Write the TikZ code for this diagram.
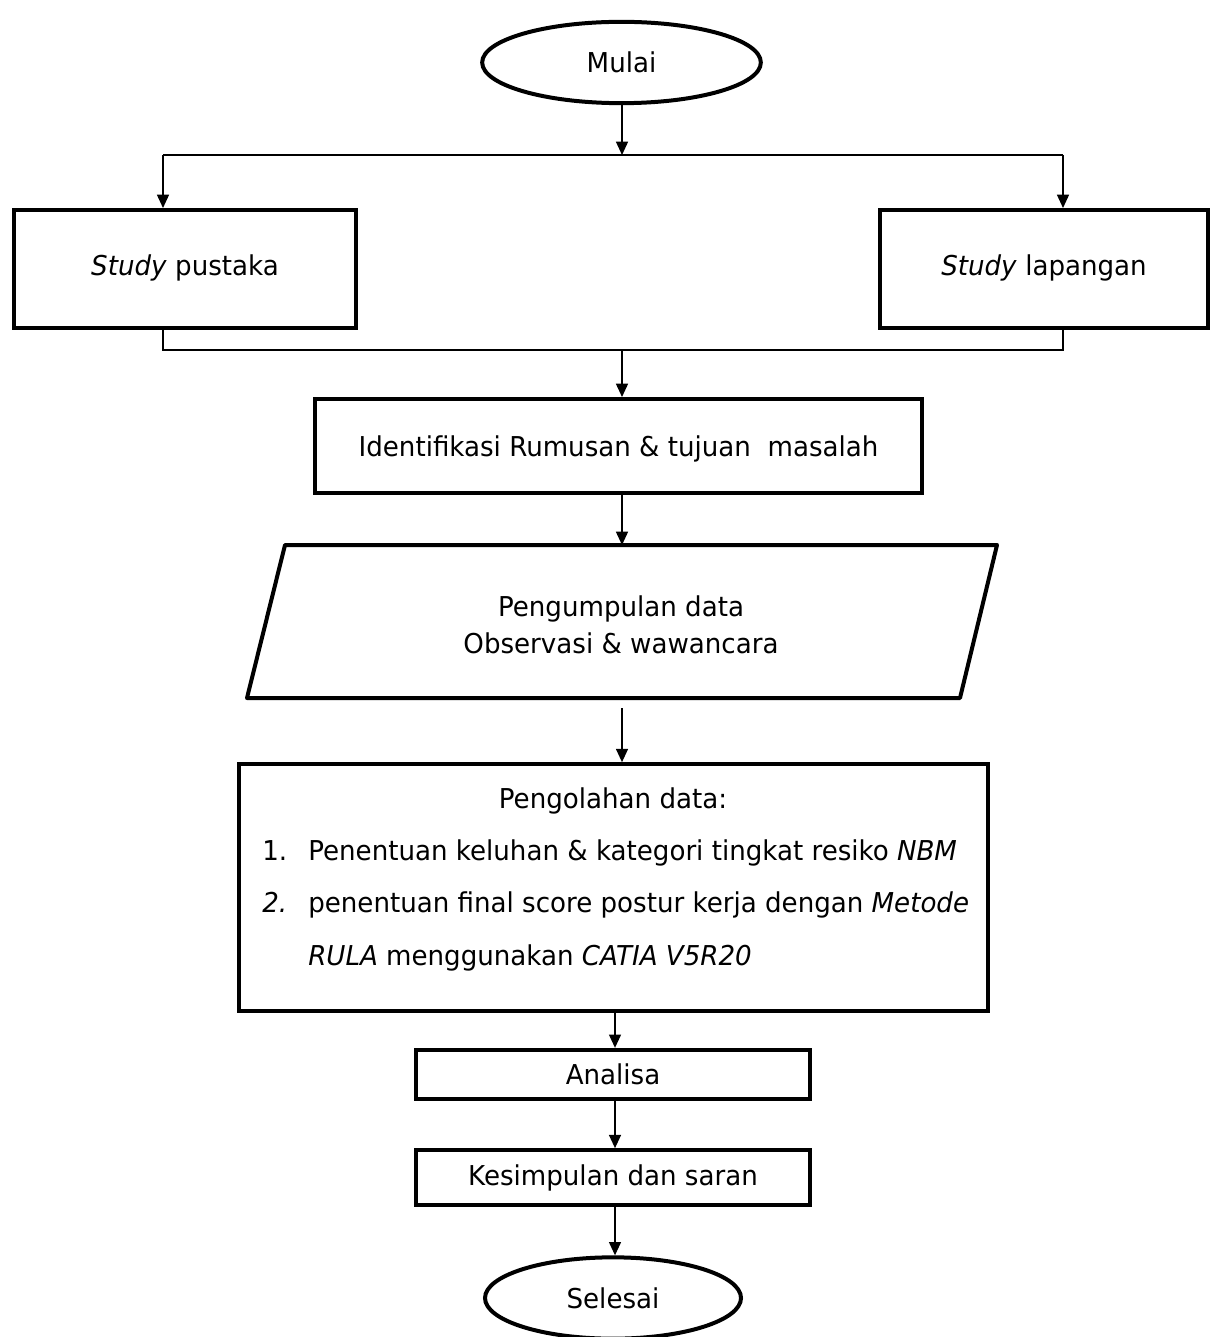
\documentclass[tikz,border=0pt]{standalone}
\usepackage{fontspec}
\setmainfont{DejaVu Sans}[FakeStretch=0.955]
\usetikzlibrary{shapes.geometric,arrows.meta}
\begin{document}
\begin{tikzpicture}[x=0.75pt,y=-0.75pt,
  font=\fontsize{20.5}{28}\selectfont,
  box/.style={draw, line width=3pt, rectangle, inner sep=0pt, align=center},
  term/.style={draw, line width=3pt, ellipse, inner sep=0pt},
  conn/.style={line width=1.1pt},
  arr/.style={conn, -{Triangle[length=10pt,width=9pt]}},
  txt/.style={inner sep=0pt}]
\useasboundingbox (0,0) rectangle (1212,1337);

% nodes
\node[term, minimum width=209pt, minimum height=61pt] (mulai) at (621.5,62.5) {Mulai};
\node[box, minimum width=256.5pt, minimum height=88.5pt] (sp) at (185,269) {\textit{Study} pustaka\rule[-6pt]{0pt}{0pt}};
\node[box, minimum width=246pt, minimum height=88.5pt] (sl) at (1044,269) {\textit{Study} lapangan\rule[-6pt]{0pt}{0pt}};
\node[box, minimum width=455pt, minimum height=70.5pt] (ident) at (618.5,446) {\rule{0pt}{20pt}Identifikasi Rumusan \& tujuan\ \ masalah};

% parallelogram
\coordinate (ptl) at (285,545);
\coordinate (ptr) at (997,545);
\coordinate (pbr) at (960,698);
\coordinate (pbl) at (247,698);
\draw[line width=3pt, line join=round] (ptl) -- (ptr) -- (pbr) -- (pbl) -- cycle;
\node[txt, align=center, minimum height=115pt] (para) at (621,625) {Pengumpulan data\\Observasi \& wawancara};

\node[box, minimum width=562pt, minimum height=185pt] (olah) at (613.5,887.5) {};
\node[txt, anchor=base] (olah0) at (613,808) {Pengolahan data:};
\node[txt, anchor=base west] (n1) at (262,860) {1.};
\node[txt, anchor=base west] (t1) at (308,860) {Penentuan keluhan \& kategori tingkat resiko \textit{NBM}};
\node[txt, anchor=base west] (n2) at (262,912) {\textit{2.}};
\node[txt, anchor=base west] (t2) at (308,912) {penentuan final score postur kerja dengan \textit{Metode}};
\node[txt, anchor=base west] (t3) at (308,965) {\textit{RULA} menggunakan \textit{CATIA V5R20}};

\node[box, minimum width=295.5pt, minimum height=37pt] (ana) at (613,1074.5) {Analisa};
\node[box, minimum width=295.5pt, minimum height=41pt] (kes) at (613,1177.5) {Kesimpulan dan saran};
\node[term, minimum width=192pt, minimum height=61pt] (sel) at (613,1298) {Selesai};

% junctions
\coordinate (jtop) at (622,155);
\coordinate (jl) at (163,155);
\coordinate (jr) at (1063,155);
\coordinate (jbot) at (622,350);
\coordinate (bl) at (163,350);
\coordinate (br) at (1063,350);

% connectors
\draw[arr] (mulai.south -| jtop) -- (jtop);
\draw[conn] (jl) -- (jr);
\draw[arr] (jl) -- (jl |- sp.north);
\draw[arr] (jr) -- (jr |- sl.north);
\draw[conn] (bl |- sp.south) -- (bl) -- (br) -- (br |- sl.south);
\draw[arr] (jbot) -- (jbot |- ident.north);
\draw[arr] (jbot |- ident.south) -- (jbot |- ptl);
\draw[arr] ([yshift=-7.5pt]jbot |- pbl) -- (jbot |- olah.north);
\draw[arr] (615,0 |- olah.south) -- (615,0 |- ana.north);
\draw[arr] (615,0 |- ana.south) -- (615,0 |- kes.north);
\draw[arr] (615,0 |- kes.south) -- (615,0 |- sel.north);
\end{tikzpicture}
\end{document}
